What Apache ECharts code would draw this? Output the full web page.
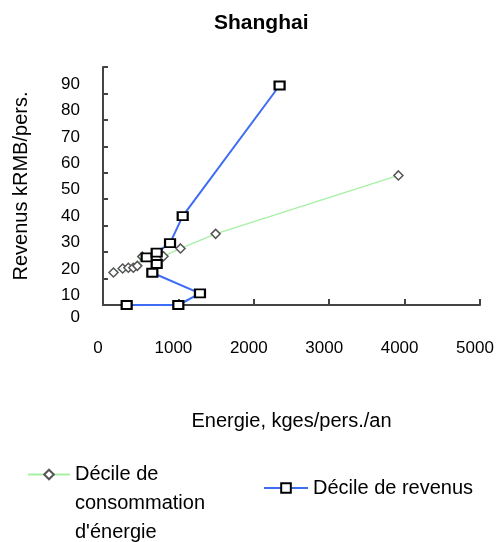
<!DOCTYPE html>
<html>
<head>
<meta charset="utf-8">
<script src="https://cdn.jsdelivr.net/npm/echarts@6/dist/echarts.min.js"></script>
<style>
  html, body { margin: 0; padding: 0; background: #fff; }
  #chart { width: 496px; height: 542px; }
</style>
</head>
<body>
<div id="chart"></div>
<script>
// Shanghai: income vs. household energy use, by decile
const energyDecileX = [139, 261, 336, 402, 455, 521, 802, 1028, 1494, 3918];
const energyDecileY = [12.3, 13.8, 14.1, 14.1, 14.8, 18.3, 18.4, 21.4, 26.9, 49];
const incomeDecileX = [314, 999, 1286, 654, 712, 579, 712, 889, 1057, 2342];
const incomeDecileY = [0, 0, 4.4, 12.2, 15.5, 18, 19.8, 23.4, 33.6, 83];

const seriesNames = ["Décile de\nconsommation\nd'énergie", 'Décile de revenus'];

const Y_MIN = 0, Y_MAX = 90, Y_STEP = 10;
const X_MIN = 0, X_MAX = 5000, X_STEP = 1000;

const pairs = (xs, ys) => xs.map((x, i) => [x, ys[i]]);

const FONT = '"Liberation Sans", Arial, sans-serif';
const axisGrey = '#444';

// y labels hang a little below their ticks; the top one is drawn by a
// label-only twin axis so the min/max overlap pruning keeps every label
const yLabelBase = {
  margin: 23,
  showMinLabel: true,
  showMaxLabel: true,
  verticalAlign: 'top',
  lineHeight: 11.3,
  rich: { z: { lineHeight: 24, fontFamily: FONT, fontSize: 17, color: '#000' } },
  fontFamily: FONT, fontSize: 17, color: '#000'
};
const yLabelText = (v) => (v === Y_MIN ? '{z|' + v + '}' : '\n' + v);

const chart = echarts.init(document.getElementById('chart'), null, { renderer: 'canvas' });

chart.setOption({
  animation: false,
  backgroundColor: '#fff',
  title: {
    text: 'Shanghai',
    left: 209,
    top: 8,
    textStyle: { fontFamily: FONT, fontSize: 21, fontWeight: 'bold', color: '#000' }
  },
  grid: { left: 103, right: 16, top: 67, bottom: 237, containLabel: false, outerBoundsMode: 'none' },
  xAxis: {
    type: 'value',
    min: X_MIN,
    max: X_MAX,
    interval: X_STEP,
    name: 'Energie, kges/pers./an',
    nameLocation: 'middle',
    nameGap: 106,
    nameTextStyle: { fontFamily: FONT, fontSize: 20, color: '#000' },
    axisLine: { show: true, onZero: false, lineStyle: { color: axisGrey, width: 2 } },
    axisTick: { show: true, inside: true, length: 6, lineStyle: { color: axisGrey, width: 2 } },
    axisLabel: {
      margin: 35,
      showMinLabel: true,
      showMaxLabel: true,
      formatter: (v) => String(v),
      padding: [0, 10, 0, 0],
      fontFamily: FONT, fontSize: 17, color: '#000'
    },
    splitLine: { show: false }
  },
  yAxis: [
    {
      type: 'value',
      position: 'left',
      min: Y_MIN,
      max: Y_MAX,
      interval: Y_STEP,
      name: 'Revenus kRMB/pers.',
      nameLocation: 'middle',
      nameGap: 72,
      nameRotate: 90,
      nameTextStyle: { fontFamily: FONT, fontSize: 20, color: '#000' },
      axisLine: { show: true, onZero: false, lineStyle: { color: axisGrey, width: 2 } },
      axisTick: { show: true, inside: true, length: 5, lineStyle: { color: axisGrey, width: 2 } },
      axisLabel: Object.assign({}, yLabelBase, {
        formatter: (v) => (v === Y_MAX ? '' : yLabelText(v))
      }),
      splitLine: { show: false }
    },
    {
      type: 'value',
      position: 'left',
      offset: 0,
      min: Y_MIN,
      max: Y_MAX,
      interval: Y_STEP,
      axisLine: { show: false },
      axisTick: { show: false },
      axisLabel: Object.assign({}, yLabelBase, {
        formatter: (v) => (v === Y_MAX ? yLabelText(v) : '')
      }),
      splitLine: { show: false }
    }
  ],
  legend: [
    {
      data: [seriesNames[0]],
      left: 27,
      top: 402,
      padding: 0,
      itemWidth: 42,
      itemHeight: 12,
      formatter: (name) => '\n\n' + name,
      textStyle: { fontFamily: FONT, fontSize: 20, color: '#000', lineHeight: 29 }
    },
    {
      data: [seriesNames[1]],
      left: 263,
      top: 478,
      padding: 0,
      itemWidth: 44,
      itemHeight: 12,
      textStyle: { fontFamily: FONT, fontSize: 20, color: '#000' }
    }
  ],
  series: [
    {
      name: seriesNames[0],
      type: 'line',
      yAxisIndex: 0,
      data: pairs(energyDecileX, energyDecileY),
      symbol: 'diamond',
      symbolSize: 9,
      lineStyle: { color: '#a6f0a6', width: 1.2 },
      itemStyle: { color: '#fff', borderColor: '#555', borderWidth: 1.5 },
      z: 2
    },
    {
      name: seriesNames[1],
      type: 'line',
      yAxisIndex: 0,
      data: pairs(incomeDecileX, incomeDecileY),
      symbol: 'rect',
      symbolSize: [10, 8],
      lineStyle: { color: '#3d6cf5', width: 2 },
      itemStyle: { color: '#fff', borderColor: '#000', borderWidth: 2 },
      z: 3
    }
  ]
});
</script>
</body>
</html>
